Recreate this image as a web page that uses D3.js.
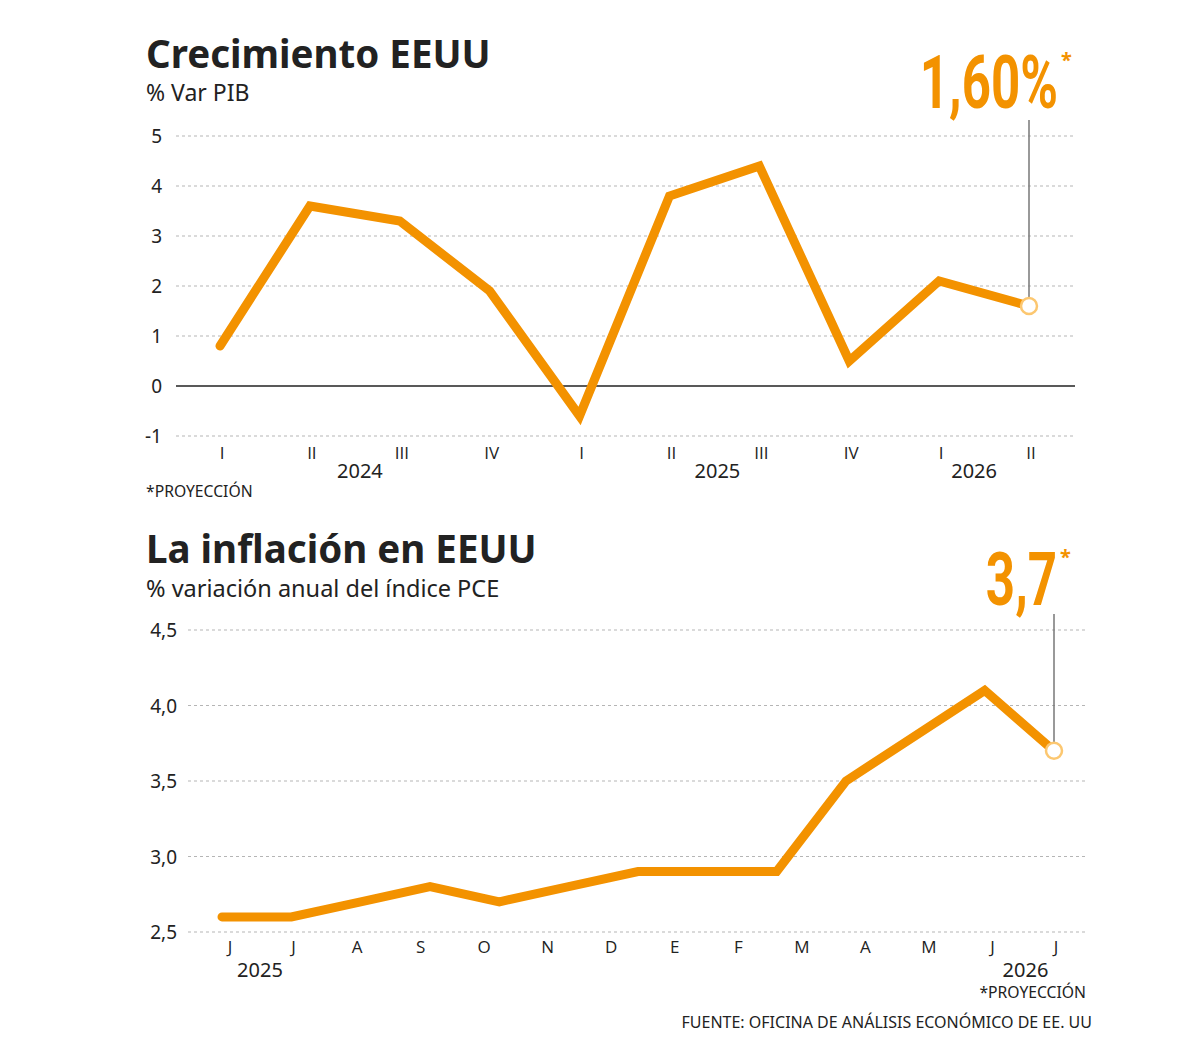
<!DOCTYPE html>
<html>
<head>
<meta charset="utf-8">
<script src="https://cdn.jsdelivr.net/npm/d3@7"></script>
<style>
  body { margin: 0; background: #fff; }
  text { font-family: "Noto Sans", "Open Sans", sans-serif; fill: #222; }
  .xtick { font-family: "Open Sans", sans-serif; }
  .big { font-family: "Roboto", sans-serif; font-weight: 700; fill: #f39200; }
</style>
</head>
<body>
<svg id="chart" width="1200" height="1064"></svg>
<script>
"use strict";

// crecimiento PIB (trimestral)
const gdpQuarters = ["I", "II", "III", "IV", "I", "II", "III", "IV", "I", "II"];
const gdpValues = [0.8, 3.6, 3.3, 1.9, -0.6, 3.8, 4.4, 0.5, 2.1, 1.6];
const gdpTicks = [5, 4, 3, 2, 1, 0, -1];
const gdpYears = ["2024", "2025", "2026"];

// inflación PCE (mensual)
const pceMonths = ["J", "J", "A", "S", "O", "N", "D", "E", "F", "M", "A", "M", "J", "J"];
const pceValues = [2.6, 2.6, 2.7, 2.8, 2.7, 2.8, 2.9, 2.9, 2.9, 3.5, 3.8, 4.1, 3.7];
const pceTicks = [4.5, 4.0, 3.5, 3.0, 2.5];
const pceYears = ["2025", "2026"];

const orange = "#f39200";
const svg = d3.select("#chart");
const fmt = d3.format(".1f");
const comma = v => String(v).replace(".", ",");


function drawLine(g, data, x, y) {
    g.append("path")
        .datum(data)
        .attr("fill", "none")
        .attr("stroke", orange)
        .attr("stroke-width", 9)
        .attr("stroke-linejoin", "miter")
        .attr("stroke-linecap", "round")
        .attr("d", d3.line().x((d, i) => x(i)).y(d => y(d)));

    const last = data.length - 1;
    g.append("circle")
        .attr("cx", x(last))
        .attr("cy", y(data[last]))
        .attr("r", 8)
        .attr("fill", "#fff")
        .attr("stroke", "#fcc770")
        .attr("stroke-width", 2.5);
}

function grid(g, ticks, y, x0, x1) {
    g.selectAll("line.grid")
        .data(ticks)
        .join("line")
        .attr("x1", x0).attr("x2", x1)
        .attr("y1", d => y(d)).attr("y2", d => y(d))
        .attr("stroke", "#b5b5b5")
        .attr("stroke-width", 1.2)
        .attr("stroke-dasharray", "3,3");
}

function bigLabel(g, txt, xr, base, size) {
    // condensed look by squeezing a normal font
    g.append("text")
        .attr("class", "big")
        .attr("transform", `translate(${xr},${base}) scale(0.69,1)`)
        .attr("text-anchor", "end")
        .attr("font-size", size)
        .text(txt);
    g.append("text")
        .attr("x", xr + 3)
        .attr("y", base - size * 0.56)
        .attr("font-size", 20)
        .attr("font-weight", 700)
        .style("fill", orange)
        .text("*");
}


        // ---------- Crecimiento EEUU ----------

const g1 = svg.append("g");

const x1 = d3.scalePoint().domain(d3.range(gdpValues.length)).range([220, 1029]);
const y1 = d3.scaleLinear().domain([-1, 5]).range([436, 136]);

g1.append("text").attr("x", 146).attr("y", 68)
    .attr("font-size", 38.5).attr("font-weight", 700).text("Crecimiento EEUU");
g1.append("text").attr("x", 146).attr("y", 101)
    .attr("font-size", 23).text("% Var PIB");

grid(g1, gdpTicks.filter(d => d !== 0), y1, 176, 1075);

g1.append("line")
    .attr("x1", 176).attr("x2", 1075)
    .attr("y1", y1(0)).attr("y2", y1(0))
    .attr("stroke", "#222").attr("stroke-width", 1.6);

g1.selectAll("text.ytick")
    .data(gdpTicks)
    .join("text")
    .attr("class", "ytick")
    .attr("x", 162)
    .attr("y", d => y1(d) + 7)
    .attr("text-anchor", "end")
    .attr("font-size", 19)
    .text(d => d);

g1.selectAll("text.xtick")
    .data(gdpQuarters)
    .join("text")
    .attr("class", "xtick")
    .attr("x", (d, i) => x1(i) + 2)
    .attr("y", 459)
    .attr("text-anchor", "middle")
    .attr("font-size", 17)
    .text(d => d);

// años, centrados entre trimestres
const yearPos1 = [x1(1) + 50, x1(5) + 48, x1(8) + 35];
g1.selectAll("text.year")
    .data(gdpYears)
    .join("text")
    .attr("class", "year")
    .attr("x", (d, i) => yearPos1[i])
    .attr("y", 478)
    .attr("text-anchor", "middle")
    .attr("font-size", 20)
    .text(d => d);

g1.append("text").attr("x", 146).attr("y", 497)
    .attr("font-size", 15.7).text("*PROYECCIÓN");

const lastG = gdpValues.length - 1;
g1.append("line")
    .attr("x1", x1(lastG)).attr("x2", x1(lastG))
    .attr("y1", 120).attr("y2", y1(gdpValues[lastG]) - 8)
    .attr("stroke", "#777").attr("stroke-width", 1.5);

drawLine(g1, gdpValues, x1, y1);

bigLabel(g1, comma(fmt(gdpValues[lastG])) + "0%", 1058, 108, 74);


        // ---------- La inflación en EEUU ----------

const g2 = svg.append("g");

const x2 = d3.scalePoint().domain(d3.range(pceValues.length)).range([222, 1054]);
const xm = d3.scalePoint().domain(d3.range(pceMonths.length)).range([230, 1056]);
const y2 = d3.scaleLinear().domain([2.5, 4.5]).range([932, 630]);

g2.append("text").attr("x", 146).attr("y", 563)
    .attr("font-size", 38.5).attr("font-weight", 700).text("La inflación en EEUU");
g2.append("text").attr("x", 146).attr("y", 597)
    .attr("font-size", 23.5).text("% variación anual del índice PCE");

grid(g2, pceTicks, y2, 188, 1088);

g2.selectAll("text.ytick")
    .data(pceTicks)
    .join("text")
    .attr("class", "ytick")
    .attr("x", 177)
    .attr("y", d => y2(d) + 7)
    .attr("text-anchor", "end")
    .attr("font-size", 19)
    .text(d => comma(fmt(d)));

g2.selectAll("text.xtick")
    .data(pceMonths)
    .join("text")
    .attr("class", "xtick")
    .attr("x", (d, i) => xm(i))
    .attr("y", 953)
    .attr("text-anchor", "middle")
    .attr("font-size", 17)
    .text(d => d);

const yearPos2 = [xm(0) + 30, xm(12) + 33];
g2.selectAll("text.year")
    .data(pceYears)
    .join("text")
    .attr("class", "year")
    .attr("x", (d, i) => yearPos2[i])
    .attr("y", 977)
    .attr("text-anchor", "middle")
    .attr("font-size", 20)
    .text(d => d);

g2.append("text").attr("x", 1086).attr("y", 998)
    .attr("text-anchor", "end")
    .attr("font-size", 15.7).text("*PROYECCIÓN");

g2.append("text").attr("x", 1092).attr("y", 1028)
    .attr("text-anchor", "end")
    .attr("font-size", 16).text("FUENTE: OFICINA DE ANÁLISIS ECONÓMICO DE EE. UU");

const lastP = pceValues.length - 1;
g2.append("line")
    .attr("x1", x2(lastP)).attr("x2", x2(lastP))
    .attr("y1", 614).attr("y2", y2(pceValues[lastP]) - 8)
    .attr("stroke", "#777").attr("stroke-width", 1.5);

drawLine(g2, pceValues, x2, y2);

bigLabel(g2, comma(fmt(pceValues[lastP])), 1057, 605, 74);

</script>
</body>
</html>
